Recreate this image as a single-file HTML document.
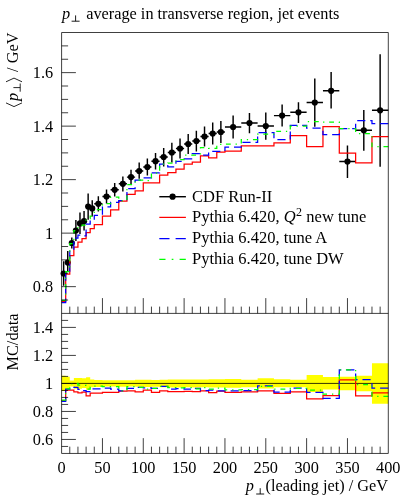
<!DOCTYPE html>
<html><head><meta charset="utf-8"><title>pT average in transverse region, jet events</title>
<style>html,body{margin:0;padding:0;background:#fff}svg{display:block;will-change:transform;transform:translateZ(0)}text{font-family:"Liberation Serif",serif;fill:#000}</style></head><body>
<svg width="406" height="500" viewBox="0 0 406 500" font-size="16.3">
<rect x="0" y="0" width="406" height="500" fill="#fff"/>
<path d="M61.6 375.84H65.68L65.68 376.66H69.77L69.77 380.44H73.85L73.85 377.98H77.94L77.94 377.92H82.02L82.02 378.31H86.1L86.1 377.19H90.19L90.19 379.5H94.27L94.27 379.89H102.44L102.44 380.2H110.61L110.61 380.36H118.77L118.77 380.2H126.94L126.94 380.22H135.11L135.11 379.81H143.28L143.28 379.86H151.44L151.44 380.04H159.61L159.61 379.76H167.78L167.78 379.48H175.94L175.94 379.45H184.11L184.11 379.5H192.28L192.28 379.45H200.45L200.45 379.58H208.61L208.61 379.23H216.78L216.78 379.25H224.95L224.95 379.11H241.28L241.28 379.72H257.62L257.62 378.34H273.95L273.95 379.35H290.29L290.29 379.78H306.62L306.62 374.98H322.96L322.96 377.04H339.3L339.3 376.82H355.63L355.63 375.75H371.97L371.97 363.33H388.3L388.3 403.7H371.97L371.97 391.18H355.63L355.63 390.24H339.3L339.3 389.51H322.96L322.96 391.94H306.62L306.62 387.28H290.29L290.29 387.35H273.95L273.95 388.55H257.62L257.62 387.24H241.28L241.28 387.74H224.95L224.95 387.6H216.78L216.78 387.62H208.61L208.61 387.27H200.45L200.45 387.51H192.28L192.28 387.35H184.11L184.11 387.4H175.94L175.94 387.45H167.78L167.78 387.3H159.61L159.61 386.85H151.44L151.44 386.99H143.28L143.28 386.7H135.11L135.11 386.5H126.94L126.94 386.78H118.77L118.77 386.44H110.61L110.61 386.6H102.44L102.44 387.06H94.27L94.27 387.31H90.19L90.19 389.66H86.1L86.1 388.09H82.02L82.02 388.78H77.94L77.94 388.87H73.85L73.85 386.41H69.77L69.77 389.01H65.68L65.68 390.95H61.6Z" fill="#ffff00"/>
<path d="M61.6 383.42H388.3" stroke="#000" stroke-width="0.8" fill="none"/>
<path d="M61.6 400.69H65.68V390.19H69.77V390.22H73.85V391.98H77.94V392.82H82.02V392.09H86.1V395.76H90.19V393.06H94.27V393.19H102.44V392.4H110.61V392.44H118.77V391.03H126.94V390.87H135.11V391.84H143.28V390.06H151.44V392.34H159.61V390.76H167.78V391.55H175.94V391.58H184.11V391.28H192.28V391.6H200.45V390.85H208.61V392.69H216.78V391.1H224.95V392.46H241.28V391.92H257.62V390.86H273.95V393.35H290.29V391.83H306.62V398.97H322.96V395.62H339.3V379.96H355.63V395.75H371.97V392.82H388.3" stroke="#ff0000" stroke-width="1.25" fill="none"/>
<path d="M61.6 401.37H65.68V389.01H69.77V387.23H73.85V387.31H77.94V389.28H82.02V390.74H86.1V391.71H90.19V388.98H94.27V388.85H102.44V388.17H110.61V389.06H118.77V390.81H126.94V388.36H135.11V387.25H143.28V387.96H151.44V388.25H159.61V386.28H167.78V389.18H175.94V388.52H184.11V389.24H192.28V388.29H200.45V390.62H208.61V390.21H216.78V390.76H224.95V390.92H241.28V390.62H257.62V385.85H273.95V392.19H290.29V388.15H306.62V392.43H322.96V398.36H339.3V369.8H355.63V379.72H371.97V388.2H388.3" stroke="#0000ff" stroke-width="1.25" fill="none" stroke-dasharray="8.1655 4.8993"/>
<path d="M61.6 400.01H65.68V388.83H69.77V383.7H73.85V383.42H77.94V385.24H82.02V385.33H86.1V389.09H90.19V387.07H94.27V386.11H102.44V386.69H110.61V386.67H118.77V390.94H126.94V386.67H135.11V387.25H143.28V389.09H151.44V388.29H159.61V386.28H167.78V387.65H175.94V387.88H184.11V387.74H192.28V388.88H200.45V387.66H208.61V389.07H216.78V388.1H224.95V389.8H241.28V389.54H257.62V386.45H273.95V389.14H290.29V388.44H306.62V390.18H322.96V394.15H339.3V369.8H355.63V384.67H371.97V396.48H388.3" stroke="#00ff00" stroke-width="1.25" fill="none" stroke-dasharray="4.9099 4.9099 1.3093 4.9099"/>
<path d="M61.6 273.5H65.68M63.64 261.2V285.7M65.68 262.5H69.77M67.73 251V272M69.77 243H73.85M71.81 237.5V248.5M73.85 230.5H77.94M75.89 220V241M77.94 223.4H82.02M79.98 212.5V234M82.02 221.2H86.1M84.06 211V230.5M86.1 206.6H90.19M88.14 193.5V219.7M90.19 208.4H94.27M92.23 200.2V216.5M94.27 203.8H102.44M98.35 196.3V211.5M102.44 196.5H110.61M106.52 189.5V203.4M110.61 189.8H118.77M114.69 183V196.5M118.77 183.8H126.94M122.86 176.5V191.4M126.94 177.1H135.11M131.02 169.7V184.2M135.11 171H143.28M139.19 162.5V178.7M143.28 167H151.44M147.36 158.5V175.5M151.44 161.2H159.61M155.53 153V169.5M159.61 157H167.78M163.69 148V166.5M167.78 152.5H175.94M171.86 142.7V162.5M175.94 148.5H184.11M180.03 138.5V158.5M184.11 144H192.28M188.2 134V154M192.28 141H200.45M196.36 130.8V151.5M200.45 136.5H208.61M204.53 126.5V146.5M208.61 133.5H216.78M212.7 122.5V144.5M216.78 132H224.95M220.87 121V143M224.95 127H241.28M233.12 115.5V138.5M241.28 123H257.62M249.45 113V133.3M257.62 126H273.95M265.79 112.4V139.7M273.95 115.6H290.29M282.12 104.4V126.4M290.29 112.3H306.62M298.46 102.2V123M306.62 102.5H322.96M314.79 78.5V126.7M322.96 90.8H339.3M331.13 72.1V108.6M339.3 161.5H355.63M347.46 145.5V178M355.63 130.3H371.97M363.8 110V150.8M371.97 110.3H388.3M380.13 54.3V166.8" stroke="#000" stroke-width="1.45" fill="none"/>
<circle cx="63.64" cy="273.5" r="3.1"/>
<circle cx="67.73" cy="262.5" r="3.1"/>
<circle cx="71.81" cy="243" r="3.1"/>
<circle cx="75.89" cy="230.5" r="3.1"/>
<circle cx="79.98" cy="223.4" r="3.1"/>
<circle cx="84.06" cy="221.2" r="3.1"/>
<circle cx="88.14" cy="206.6" r="3.1"/>
<circle cx="92.23" cy="208.4" r="3.1"/>
<circle cx="98.35" cy="203.8" r="3.1"/>
<circle cx="106.52" cy="196.5" r="3.1"/>
<circle cx="114.69" cy="189.8" r="3.1"/>
<circle cx="122.86" cy="183.8" r="3.1"/>
<circle cx="131.02" cy="177.1" r="3.1"/>
<circle cx="139.19" cy="171" r="3.1"/>
<circle cx="147.36" cy="167" r="3.1"/>
<circle cx="155.53" cy="161.2" r="3.1"/>
<circle cx="163.69" cy="157" r="3.1"/>
<circle cx="171.86" cy="152.5" r="3.1"/>
<circle cx="180.03" cy="148.5" r="3.1"/>
<circle cx="188.2" cy="144" r="3.1"/>
<circle cx="196.36" cy="141" r="3.1"/>
<circle cx="204.53" cy="136.5" r="3.1"/>
<circle cx="212.7" cy="133.5" r="3.1"/>
<circle cx="220.87" cy="132" r="3.1"/>
<circle cx="233.12" cy="127" r="3.1"/>
<circle cx="249.45" cy="123" r="3.1"/>
<circle cx="265.79" cy="126" r="3.1"/>
<circle cx="282.12" cy="115.6" r="3.1"/>
<circle cx="298.46" cy="112.3" r="3.1"/>
<circle cx="314.79" cy="102.5" r="3.1"/>
<circle cx="331.13" cy="90.8" r="3.1"/>
<circle cx="347.46" cy="161.5" r="3.1"/>
<circle cx="363.8" cy="130.3" r="3.1"/>
<circle cx="380.13" cy="110.3" r="3.1"/>
<path d="M61.6 301.5H65.68V274H69.77V255.5H73.85V247H77.94V242H82.02V238.5H86.1V232.5H90.19V228.5H94.27V224.5H102.44V216H110.61V209.8H118.77V201H126.94V194.3H135.11V190.8H143.28V182.8H151.44V182.8H159.61V175H167.78V172.7H175.94V169H184.11V164H192.28V162H200.45V155.8H208.61V157.8H216.78V152.2H224.95V151.1H241.28V145.9H257.62V145.9H273.95V142.9H290.29V135.6H306.62V146.7H322.96V126.5H339.3V153.1H355.63V162.9H371.97V136.5H388.3" stroke="#ff0000" stroke-width="1.25" fill="none"/>
<path d="M61.6 302.6H65.68V272H69.77V250H73.85V238H77.94V235H82.02V235.8H86.1V224H90.19V220H94.27V215.3H102.44V206.8H110.61V202.3H118.77V200.5H126.94V188.5H135.11V180H143.28V177.8H151.44V172.9H159.61V164H167.78V166.8H175.94V161.3H184.11V158.8H192.28V153.5H200.45V155.2H208.61V151.3H216.78V151.3H224.95V147H241.28V142.4H257.62V132.5H273.95V139.7H290.29V125.4H306.62V128.1H322.96V134.5H339.3V128.5H355.63V120.5H371.97V123.6H388.3" stroke="#0000ff" stroke-width="1.25" fill="none" stroke-dasharray="8.1393 4.8836"/>
<path d="M61.6 300.4H65.68V271.7H69.77V243.5H73.85V230.5H77.94V227H82.02V225H86.1V218.5H90.19V216H94.27V209.5H102.44V203.6H110.61V197H118.77V200.8H126.94V184.6H135.11V180H143.28V180.5H151.44V173H159.61V164H167.78V163H175.94V159.7H184.11V155H192.28V155H200.45V147.5H208.61V148.3H216.78V144.3H224.95V144H241.28V139.5H257.62V134.1H273.95V131.3H290.29V126.2H306.62V121.7H322.96V122.2H339.3V128.5H355.63V133.6H371.97V146.7H388.3" stroke="#00ff00" stroke-width="1.25" fill="none" stroke-dasharray="4.8239 4.8239 1.2864 4.8239"/>
<path d="M69.77 313.4v-6.8M77.94 313.4v-6.8M86.1 313.4v-6.8M94.27 313.4v-6.8M102.44 313.4v-15.3M110.61 313.4v-6.8M118.77 313.4v-6.8M126.94 313.4v-6.8M135.11 313.4v-6.8M143.28 313.4v-15.3M151.44 313.4v-6.8M159.61 313.4v-6.8M167.78 313.4v-6.8M175.94 313.4v-6.8M184.11 313.4v-15.3M192.28 313.4v-6.8M200.45 313.4v-6.8M208.61 313.4v-6.8M216.78 313.4v-6.8M224.95 313.4v-15.3M233.12 313.4v-6.8M241.28 313.4v-6.8M249.45 313.4v-6.8M257.62 313.4v-6.8M265.79 313.4v-15.3M273.95 313.4v-6.8M282.12 313.4v-6.8M290.29 313.4v-6.8M298.46 313.4v-6.8M306.62 313.4v-15.3M314.79 313.4v-6.8M322.96 313.4v-6.8M331.13 313.4v-6.8M339.3 313.4v-6.8M347.46 313.4v-15.3M355.63 313.4v-6.8M363.8 313.4v-6.8M371.97 313.4v-6.8M380.13 313.4v-6.8M69.77 453.45v-6.8M77.94 453.45v-6.8M86.1 453.45v-6.8M94.27 453.45v-6.8M102.44 453.45v-15.3M110.61 453.45v-6.8M118.77 453.45v-6.8M126.94 453.45v-6.8M135.11 453.45v-6.8M143.28 453.45v-15.3M151.44 453.45v-6.8M159.61 453.45v-6.8M167.78 453.45v-6.8M175.94 453.45v-6.8M184.11 453.45v-15.3M192.28 453.45v-6.8M200.45 453.45v-6.8M208.61 453.45v-6.8M216.78 453.45v-6.8M224.95 453.45v-15.3M233.12 453.45v-6.8M241.28 453.45v-6.8M249.45 453.45v-6.8M257.62 453.45v-6.8M265.79 453.45v-15.3M273.95 453.45v-6.8M282.12 453.45v-6.8M290.29 453.45v-6.8M298.46 453.45v-6.8M306.62 453.45v-15.3M314.79 453.45v-6.8M322.96 453.45v-6.8M331.13 453.45v-6.8M339.3 453.45v-6.8M347.46 453.45v-15.3M355.63 453.45v-6.8M363.8 453.45v-6.8M371.97 453.45v-6.8M380.13 453.45v-6.8M61.6 300.02h6.5M61.6 286.65h14.3M61.6 273.27h6.5M61.6 259.9h6.5M61.6 246.52h6.5M61.6 233.14h14.3M61.6 219.77h6.5M61.6 206.39h6.5M61.6 193.01h6.5M61.6 179.64h14.3M61.6 166.26h6.5M61.6 152.89h6.5M61.6 139.51h6.5M61.6 126.13h14.3M61.6 112.76h6.5M61.6 99.38h6.5M61.6 86h6.5M61.6 72.63h14.3M61.6 59.25h6.5M61.6 45.88h6.5M61.6 446.45h6.5M61.6 439.44h14.3M61.6 432.44h6.5M61.6 425.44h6.5M61.6 418.44h6.5M61.6 411.44h14.3M61.6 404.43h6.5M61.6 397.43h6.5M61.6 390.43h6.5M61.6 383.42h14.3M61.6 376.42h6.5M61.6 369.42h6.5M61.6 362.42h6.5M61.6 355.41h14.3M61.6 348.41h6.5M61.6 341.41h6.5M61.6 334.41h6.5M61.6 327.4h14.3M61.6 320.4h6.5" stroke="#000" stroke-width="0.75" fill="none"/>
<path d="M61.6 32.5H388.3V453.45H61.6ZM61.6 313.4H388.3" stroke="#000" stroke-width="0.75" fill="none"/>
<text x="62" y="19.3" font-style="italic">p</text>
<path d="M71.6 21.2h8M75.6 21.2v-5.8" stroke="#000" stroke-width="0.9" fill="none"/>
<text x="86.2" y="19.3">average in transverse region, jet events</text>
<text x="53.2" y="78.03" text-anchor="end">1.6</text>
<text x="53.2" y="131.53" text-anchor="end">1.4</text>
<text x="53.2" y="185.04" text-anchor="end">1.2</text>
<text x="53.2" y="238.54" text-anchor="end">1</text>
<text x="53.2" y="292.05" text-anchor="end">0.8</text>
<text x="53.2" y="332.8" text-anchor="end">1.4</text>
<text x="53.2" y="360.81" text-anchor="end">1.2</text>
<text x="53.2" y="388.82" text-anchor="end">1</text>
<text x="53.2" y="416.83" text-anchor="end">0.8</text>
<text x="53.2" y="444.84" text-anchor="end">0.6</text>
<text x="61.6" y="472.7" text-anchor="middle">0</text>
<text x="102.44" y="472.7" text-anchor="middle">50</text>
<text x="143.28" y="472.7" text-anchor="middle">100</text>
<text x="184.11" y="472.7" text-anchor="middle">150</text>
<text x="224.95" y="472.7" text-anchor="middle">200</text>
<text x="265.79" y="472.7" text-anchor="middle">250</text>
<text x="306.62" y="472.7" text-anchor="middle">300</text>
<text x="347.46" y="472.7" text-anchor="middle">350</text>
<text x="388.3" y="472.7" text-anchor="middle">400</text>
<text x="388" y="491.2" text-anchor="end">(leading jet) / GeV</text>
<text x="245.8" y="491.2" font-style="italic">p</text>
<path d="M256.2 494h8M260.2 494v-5.8" stroke="#000" stroke-width="0.9" fill="none"/>
<g transform="translate(18,32.6) rotate(-90)"><text x="0" y="0" text-anchor="end">/ GeV</text><path d="M-49.2 -12l3.7 8l-3.7 8" stroke="#000" stroke-width="0.85" fill="none"/><path d="M-59.1 2.2h8.2M-55 2.2v-6.8" stroke="#000" stroke-width="0.85" fill="none"/><text x="-68.5" y="0" font-style="italic">p</text><path d="M-70.3 -12l-3.7 8l3.7 8" stroke="#000" stroke-width="0.85" fill="none"/></g>
<g transform="translate(18,313.5) rotate(-90)"><text x="0" y="0" text-anchor="end">MC/data</text></g>
<path d="M159.3 196.7H185.9" stroke="#000" stroke-width="1.45"/><circle cx="172.6" cy="196.7" r="3.1"/>
<path d="M159.3 217.4H185.9" stroke="#ff0000" stroke-width="1.25"/>
<path d="M159.3 238.5H185.9" stroke="#0000ff" stroke-width="1.25" stroke-dasharray="10.2 6.1"/>
<path d="M159.3 259.4H185.9" stroke="#00ff00" stroke-width="1.25" stroke-dasharray="6.2 6.2 1.7 6.2"/>
<g font-size="16.5">
<text x="192.0" y="201.5">CDF Run-II</text>
<text x="192.0" y="222.20000000000002">Pythia 6.420, <tspan font-style="italic" dx="0">Q</tspan><tspan dx="0.4" dy="-6.6" font-size="12">2</tspan><tspan dy="6.6" dx="0.2"> new tune</tspan></text>
<text x="192.0" y="243.3">Pythia 6.420, tune A</text>
<text x="192.0" y="264.2">Pythia 6.420, tune DW</text>
</g>
</svg></body></html>
